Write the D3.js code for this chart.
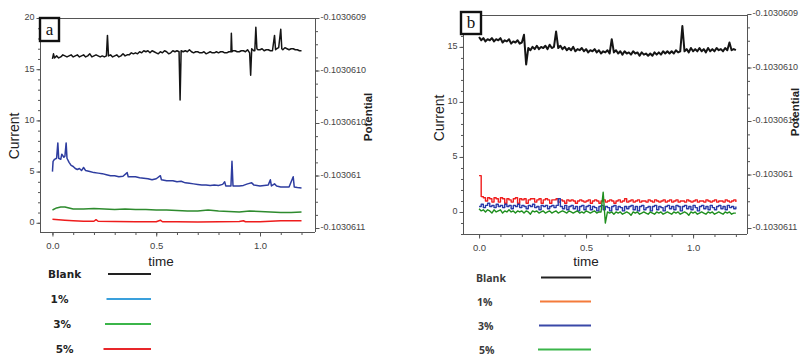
<!DOCTYPE html>
<html>
<head>
<meta charset="utf-8">
<script src="https://cdn.jsdelivr.net/npm/d3@7"></script>
<style>
  body { margin: 0; background: #fff; }
  svg { display: block; }
</style>
</head>
<body>
<svg id="chart" width="801" height="355"></svg>
<script>
// ---- tick labels ----
const timeTicks = [0, 0.5, 1.0];
const currentTicksA = [0, 5, 10, 15, 20];
const currentTicksB = [0, 5, 10, 15];
const potentialTicks = [-0.1030609, -0.10306095, -0.103061, -0.10306105, -0.1030611];
const potentialLabels = ["-0.1030609", "-0.1030610", "-0.1030610", "-0.103061", "-0.1030611"];
const legendLabels = ["Blank", "1%", "3%", "5%"];
const legendColorsA = ["#222", "#3aa0dc", "#3bb54a", "#e8262a"];
const legendColorsB = ["#222", "#f47b3b", "#3a48a8", "#3bb54a"];

// ---- panel a traces: [time, current] ----
const blankA = [[0,16.0],[0.005,16.5],[0.01,16.1],[0.02,16.3],[0.03,16.1],[0.04,16.2],[0.05,16.4],[0.06,16.3],[0.07,16.2],
  [0.08,16.3],[0.09,16.4],[0.1,16.2],[0.11,16.3],[0.12,16.4],[0.13,16.2],[0.14,16.3],[0.15,16.4],[0.16,16.2],[0.17,16.3],
  [0.18,16.5],[0.19,16.2],[0.2,16.3],[0.21,16.4],[0.22,16.3],[0.23,16.2],[0.24,16.3],[0.25,16.2],[0.26,16.3],[0.265,18.3],
  [0.27,16.3],[0.28,16.4],[0.29,16.2],[0.3,16.3],[0.31,16.4],[0.32,16.2],[0.33,16.3],[0.34,16.5],[0.35,16.3],[0.36,16.4],
  [0.37,16.4],[0.38,16.6],[0.39,16.5],[0.4,16.6],[0.41,16.5],[0.42,16.7],[0.43,16.6],[0.44,16.8],[0.45,16.7],[0.46,16.8],
  [0.47,16.6],[0.48,16.8],[0.49,16.7],[0.5,16.6],[0.51,16.5],[0.52,16.7],[0.53,16.6],[0.54,16.8],[0.55,16.7],[0.56,16.5],
  [0.57,16.6],[0.58,16.8],[0.59,16.7],[0.6,16.8],[0.61,16.7],[0.615,12.0],[0.62,16.8],[0.63,16.7],[0.64,16.8],[0.65,16.7],
  [0.66,16.9],[0.67,16.7],[0.68,16.6],[0.69,16.7],[0.7,16.7],[0.71,16.6],[0.72,16.6],[0.73,16.7],[0.74,16.5],[0.75,16.6],
  [0.76,16.7],[0.77,16.6],[0.78,16.6],[0.79,16.7],[0.8,16.6],[0.81,16.7],[0.82,16.7],[0.83,16.6],[0.84,16.6],[0.85,16.7],
  [0.86,16.7],[0.862,18.5],[0.865,16.7],[0.87,16.8],[0.88,16.8],[0.89,16.7],[0.9,16.7],[0.91,16.8],[0.92,16.8],[0.93,16.7],
  [0.94,16.9],[0.95,16.6],[0.955,14.4],[0.96,17.0],[0.97,16.8],[0.975,16.8],[0.98,19.1],[0.985,17.0],[0.99,16.9],
  [1.0,16.9],[1.01,17.0],[1.02,16.8],[1.03,16.9],[1.04,16.9],[1.05,16.8],[1.06,16.8],[1.07,18.3],[1.075,16.9],[1.08,17.0],
  [1.09,17.1],[1.1,18.9],[1.105,17.0],[1.11,16.9],[1.12,17.1],[1.13,17.0],[1.14,16.9],[1.15,17.0],[1.16,17.0],[1.17,16.9],
  [1.18,16.9],[1.19,16.8],[1.2,16.8]];
const blueA = [[0,5.0],[0.003,6.0],[0.01,6.2],[0.02,6.3],[0.026,7.8],[0.03,6.3],[0.04,6.2],[0.045,6.7],[0.055,6.4],
  [0.06,6.5],[0.066,7.8],[0.07,6.3],[0.08,5.9],[0.09,5.6],[0.1,5.5],[0.11,5.3],[0.12,5.2],[0.13,5.3],[0.14,5.1],
  [0.15,5.4],[0.16,5.1],[0.18,5.0],[0.2,4.9],[0.22,4.85],[0.24,4.8],[0.26,4.7],[0.28,4.6],[0.3,4.6],[0.32,4.5],
  [0.34,4.55],[0.36,4.9],[0.365,4.5],[0.38,4.5],[0.4,4.5],[0.42,4.4],[0.44,4.35],[0.46,4.3],[0.48,4.2],[0.5,4.3],
  [0.52,4.6],[0.525,4.2],[0.55,4.1],[0.58,4.1],[0.6,4.0],[0.62,4.05],[0.64,3.9],[0.66,3.85],[0.68,3.8],[0.7,3.75],
  [0.72,3.7],[0.74,3.7],[0.76,3.65],[0.78,3.7],[0.8,3.65],[0.82,3.75],[0.83,4.0],[0.835,3.6],[0.86,3.6],[0.865,6.0],
  [0.87,3.6],[0.9,3.6],[0.92,3.65],[0.94,3.8],[0.96,3.9],[0.97,3.7],[1.0,3.6],[1.02,3.65],[1.04,3.7],[1.05,4.2],
  [1.055,3.6],[1.07,3.8],[1.08,3.6],[1.1,3.5],[1.12,3.5],[1.14,3.5],[1.16,4.5],[1.165,3.5],[1.18,3.45],[1.2,3.4]];
const greenA = [[0,1.25],[0.02,1.45],[0.04,1.55],[0.06,1.55],[0.08,1.45],[0.1,1.35],[0.15,1.35],[0.2,1.4],[0.25,1.35],
  [0.3,1.3],[0.35,1.35],[0.4,1.3],[0.45,1.3],[0.5,1.25],[0.55,1.25],[0.6,1.2],[0.65,1.15],[0.7,1.15],[0.75,1.25],
  [0.8,1.15],[0.85,1.1],[0.9,1.05],[0.95,1.15],[1.0,1.1],[1.05,1.05],[1.1,1.0],[1.15,1.0],[1.2,1.05]];
const redA = [[0,0.35],[0.03,0.3],[0.06,0.25],[0.1,0.2],[0.15,0.15],[0.2,0.15],[0.21,0.3],[0.22,0.15],[0.3,0.12],
  [0.4,0.1],[0.5,0.1],[0.52,0.25],[0.53,0.1],[0.6,0.1],[0.7,0.08],[0.8,0.1],[0.9,0.12],[0.92,0.2],[0.93,0.1],
  [1.0,0.1],[1.05,0.15],[1.1,0.2],[1.2,0.2]];

// ---- panel b traces: one value every 0.01 of time, from 0 to 1.2 ----
const stepB = 0.01;
const blankB = [15.9,15.6,15.8,15.5,15.7,15.6,15.8,15.5,15.7,15.6,
  15.8,15.4,15.6,15.5,15.7,15.3,15.5,15.4,15.6,15.3,
  15.4,16.1,13.4,14.9,14.7,15.0,14.8,15.1,14.8,15.0,
  14.9,15.1,14.8,15.2,14.9,15.0,16.4,14.9,15.1,14.8,
  15.0,14.7,14.9,14.7,15.0,14.6,14.8,14.7,14.9,14.6,
  14.8,14.5,14.7,14.6,14.8,14.5,14.7,14.4,14.6,14.5,
  14.7,14.4,15.7,14.5,14.7,14.4,14.6,14.3,14.6,14.4,
  14.5,14.3,14.6,14.4,14.5,14.2,14.5,14.3,14.4,14.2,
  14.4,14.2,14.5,14.3,14.5,14.3,14.6,14.4,14.6,14.4,
  14.6,14.4,14.7,14.5,14.6,16.9,14.6,14.8,14.5,14.9,
  14.6,14.8,14.6,14.9,14.6,14.8,14.5,14.9,14.6,14.8,
  14.6,14.9,14.7,14.8,14.6,14.9,14.7,15.4,14.7,14.8,
  14.7];
const redB = [3.3,1.4,1.3,1.0,1.3,1.2,0.9,1.3,1.2,0.9,
  1.3,1.2,0.8,1.2,1.1,0.9,1.2,1.3,0.8,1.2,
  1.1,1.2,0.8,1.1,1.2,1.2,0.9,1.1,1.2,0.8,
  1.1,1.2,1.1,0.8,1.1,1.1,1.2,0.9,1.1,1.0,
  0.8,1.1,1.0,1.1,1.0,0.8,1.0,1.1,1.0,0.9,
  1.0,1.1,0.8,1.0,1.1,1.0,0.8,1.0,1.1,0.9,
  1.0,1.1,1.0,0.8,1.0,1.1,0.9,1.0,1.2,0.9,
  1.0,1.1,0.9,1.0,1.1,0.9,1.0,1.0,0.9,1.1,
  1.0,0.9,1.1,1.0,0.9,1.0,1.1,0.9,1.0,1.1,
  0.9,1.0,1.1,0.9,1.0,1.0,0.9,1.1,1.0,0.9,
  1.0,1.1,0.9,1.0,1.0,0.9,1.1,1.0,0.9,1.0,
  1.1,0.9,1.0,1.0,0.9,1.1,1.0,0.9,1.0,1.1,
  0.9];
const blueB = [0.5,0.7,0.4,0.6,0.8,0.5,0.6,0.4,0.7,0.5,
  0.6,0.4,0.7,0.5,0.6,0.3,0.6,0.5,0.7,0.4,
  0.6,0.5,0.3,0.6,0.5,0.7,0.4,0.5,0.2,0.6,
  0.5,0.6,0.3,0.5,0.6,0.4,0.6,1.2,0.5,0.3,
  0.6,0.2,0.5,0.6,0.3,0.5,0.1,0.5,0.6,0.2,
  0.5,0.6,0.2,0.5,0.4,0.1,0.5,0.6,0.2,0.5,
  0.4,0.1,0.5,0.6,0.2,0.5,0.4,0.1,0.5,0.3,
  0.5,0.6,0.2,0.5,0.1,0.5,0.6,0.2,0.4,0.5,
  0.1,0.5,0.6,0.2,0.5,0.4,0.1,0.5,0.6,0.3,
  0.5,0.2,0.6,0.5,0.1,0.5,0.6,0.3,0.5,0.2,
  0.6,0.4,0.1,0.5,0.6,0.3,0.5,0.2,0.6,0.4,
  0.2,0.5,0.6,0.3,0.5,0.2,0.6,0.4,0.5,0.3,
  0.5];
const greenB = [0.3,0.1,0.2,0.0,0.2,0.1,-0.1,0.2,0.0,0.1,
  0.2,-0.1,0.1,0.0,0.2,0.0,0.1,-0.1,0.1,0.0,
  0.1,-0.1,0.1,0.0,-0.2,0.1,0.0,0.1,-0.1,0.0,
  0.1,-0.1,0.0,0.1,-0.1,0.0,0.1,-0.1,0.0,0.1,
  0.0,-0.1,0.1,0.0,-0.1,0.0,0.1,-0.1,0.0,-0.1,
  0.1,0.0,-0.1,0.0,0.1,-0.1,0.0,0.0,1.8,-1.0,
  0.0,-0.1,0.0,-0.2,0.0,-0.1,0.0,-0.2,-0.1,0.0,
  -0.1,-0.3,0.0,-0.1,0.0,-0.2,-0.1,0.0,-0.1,-0.2,
  0.0,-0.1,-0.2,0.0,-0.1,0.0,-0.2,-0.1,0.0,-0.1,
  -0.2,0.0,-0.1,0.0,-0.2,-0.1,0.0,-0.1,-0.3,0.0,
  -0.1,0.0,-0.2,-0.1,0.0,-0.1,-0.2,0.0,-0.1,0.0,
  -0.2,-0.1,0.0,-0.1,-0.2,0.0,-0.1,0.0,-0.2,-0.1,
  -0.1];

const svg = d3.select("#chart");
svg.append("rect").attr("width", 801).attr("height", 355).attr("fill", "#fff");

const axisColor = "#555";
const tickFont = "Liberation Sans, Arial, sans-serif";

function drawPanel(p) {
  const g = svg.append("g");
  const x = d3.scaleLinear().domain(p.xDomain).range([p.left, p.right]);
  const y = d3.scaleLinear().domain(p.yDomain).range([p.bottom, p.top]);
  const pot = d3.scaleLinear().domain([-0.1030611, -0.1030609]).range(p.potRange);

  // frame top line
  g.append("line").attr("x1", p.left).attr("x2", p.right).attr("y1", p.top + 0.5).attr("y2", p.top + 0.5)
    .attr("stroke", axisColor);

  // minor ticks
  const yMinor = d3.range(Math.ceil(p.yDomain[0]), p.yDomain[1] + 0.01, 1);
  g.append("g").attr("transform", `translate(${p.left + 0.5},0)`)
    .call(d3.axisLeft(y).tickValues(yMinor).tickSize(2.5).tickFormat(""))
    .call(a => a.select(".domain").remove());
  const xMinor = d3.range(0, 1.25, 0.1);
  g.append("g").attr("transform", `translate(0,${p.bottom + 0.5})`)
    .call(d3.axisBottom(x).tickValues(xMinor).tickSize(2.5).tickFormat(""))
    .call(a => a.select(".domain").remove());
  const potMinor = d3.range(0, 17).map(i => -0.1030609 - i * 0.0000000125);
  g.append("g").attr("transform", `translate(${p.right + 0.5},0)`)
    .call(d3.axisRight(pot).tickValues(potMinor).tickSize(2.5).tickFormat(""))
    .call(a => a.select(".domain").remove());

  // main axes
  const yAxis = g.append("g").attr("transform", `translate(${p.left + 0.5},0)`)
    .call(d3.axisLeft(y).tickValues(p.yTicks).tickSize(4).tickPadding(2).tickSizeOuter(0));
  yAxis.select(".domain").attr("d", `M0,${p.top}V${p.bottom}`);

  const xAxis = g.append("g").attr("transform", `translate(0,${p.bottom + 0.5})`)
    .call(d3.axisBottom(x).tickValues(timeTicks).tickSize(4).tickPadding(6).tickFormat(d3.format(".1f")));
  xAxis.select(".domain").attr("d", `M${p.left},0H${p.right}`);

  const rAxis = g.append("g").attr("transform", `translate(${p.right + 0.5},0)`)
    .call(d3.axisRight(pot).tickValues(potentialTicks).tickSize(4).tickPadding(1)
      .tickFormat((d, i) => potentialLabels[i]));
  rAxis.select(".domain").attr("d", `M0,${p.top}V${p.bottom}`);

  g.selectAll(".domain, .tick line").attr("stroke", axisColor);
  g.selectAll(".tick text").attr("font-family", tickFont).attr("font-size", 9).attr("fill", "#444");
  yAxis.selectAll(".tick text").attr("dy", "0.2em");
  rAxis.selectAll(".tick text").attr("dy", "0.2em");
  xAxis.selectAll(".tick text").attr("font-size", 9.5);

  // traces
  p.series.forEach(s => {
    const line = d3.line().x(d => x(d[0])).y(d => y(d[1])).curve(s.curve || d3.curveLinear);
    g.append("path").datum(s.data).attr("d", line)
      .attr("fill", "none").attr("stroke", s.color).attr("stroke-width", s.width || 1.4)
      .attr("stroke-linejoin", "round");
  });

  // axis titles
  g.append("text").attr("transform", `translate(${p.curX},${p.curY}) rotate(-90)`)
    .attr("text-anchor", "middle").attr("font-family", tickFont).attr("font-size", 14).attr("fill", "#222")
    .text("Current");
  g.append("text").attr("transform", `translate(${p.potX},${p.potY}) rotate(-90)`)
    .attr("text-anchor", "middle").attr("font-family", tickFont).attr("font-size", 11.5)
    .attr("font-weight", "bold").attr("fill", "#222").text("Potential");
  g.append("text").attr("x", p.timeX).attr("y", 266).attr("text-anchor", "middle")
    .attr("font-family", tickFont).attr("font-size", 13.5).attr("fill", "#222").text("time");

  // panel letter box
  g.append("rect").attr("x", p.box[0]).attr("y", p.box[1]).attr("width", p.box[2]).attr("height", p.box[3])
    .attr("fill", "#fff").attr("stroke", "#111").attr("stroke-width", 2.4);
  g.append("text").attr("x", p.box[0] + p.box[2] / 2).attr("y", p.box[1] + p.box[3] / 2 + 5)
    .attr("text-anchor", "middle").attr("font-family", "Liberation Serif, Times New Roman, serif")
    .attr("font-size", 17).attr("fill", "#111").text(p.letter);

  // legend
  const lg = g.append("g");
  legendLabels.forEach((lab, i) => {
    const ly = p.legY + i * p.legStep;
    lg.append("text").attr("x", p.legTextX + i * p.legShift).attr("y", ly + 4)
      .attr("font-family", p.legFont).attr("font-weight", p.legWeight).attr("font-size", 10.5)
      .attr("fill", p.legTextColor).text(lab);
    lg.append("line").attr("x1", p.legLineX0 - i * p.legLineShift).attr("x2", p.legLineX1)
      .attr("y1", ly).attr("y2", ly).attr("stroke", p.legColors[i]).attr("stroke-width", 2.2);
  });
}

drawPanel({
  letter: "a", left: 40, right: 315, top: 18, bottom: 232,
  xDomain: [-0.06, 1.265], yDomain: [-0.9, 20], yTicks: currentTicksA, potRange: [228, 18],
  curX: 19, curY: 136, potX: 372, potY: 117, timeX: 161,
  box: [40, 18, 19, 23],
  legY: 274, legStep: 25, legTextX: 48, legShift: 2.6, legLineX0: 108, legLineShift: 1.5, legLineX1: 151,
  legFont: "DejaVu Sans, Verdana, sans-serif", legWeight: "bold", legTextColor: "#222", legColors: legendColorsA,
  series: [
    { data: blankA, color: "#151515", width: 1.5 },
    { data: blueA, color: "#2e3da0", width: 1.5 },
    { data: greenA, color: "#2e8b2e", width: 1.5 },
    { data: redA, color: "#ee1c1c", width: 1.5 }
  ]
});

const toPairs = vals => vals.map((v, i) => [i * stepB, v]);
drawPanel({
  letter: "b", left: 463, right: 747, top: 15, bottom: 234,
  xDomain: [-0.075, 1.252], yDomain: [-2, 17.9], yTicks: currentTicksB, potRange: [228, 14],
  curX: 444, curY: 118, potX: 799, potY: 112, timeX: 586,
  box: [461, 12, 20, 22],
  legY: 277.5, legStep: 24, legTextX: 476, legShift: 1, legLineX0: 541, legLineShift: 1, legLineX1: 591,
  legFont: "Open Sans, DejaVu Sans, sans-serif", legWeight: 700, legTextColor: "#3a3a3a", legColors: legendColorsB,
  series: [
    { data: toPairs(blankB), color: "#151515", width: 2.0 },
    { data: toPairs(redB), color: "#f01e1e", width: 1.4, curve: d3.curveStepAfter },
    { data: toPairs(blueB), color: "#2a3aa8", width: 1.4, curve: d3.curveStepAfter },
    { data: toPairs(greenB), color: "#1f8f1f", width: 1.4 }
  ]
});
</script>
</body>
</html>
